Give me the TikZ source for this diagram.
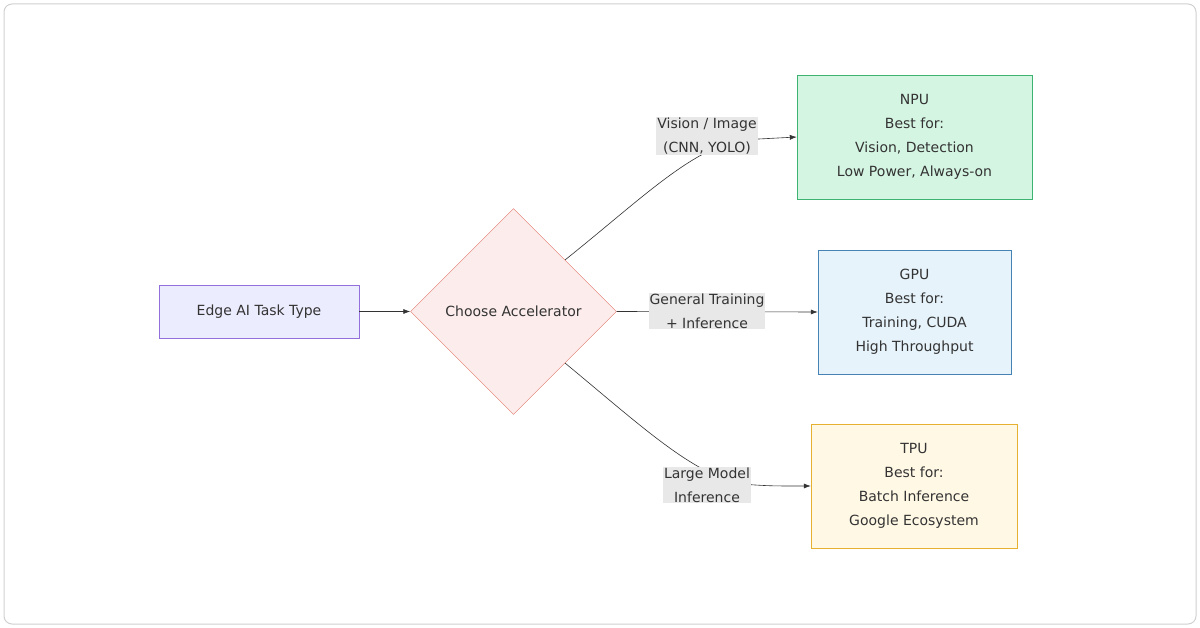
\documentclass[tikz,border=0pt]{standalone}
\usepackage{fontspec}
\setmainfont{DejaVu Sans}
\usetikzlibrary{shapes.geometric,arrows.meta}
\definecolor{startfill}{HTML}{ECECFF}
\definecolor{startline}{HTML}{9370DB}
\definecolor{decfill}{HTML}{FDECEC}
\definecolor{decline}{HTML}{E07466}
\definecolor{npufill}{HTML}{D5F5E3}
\definecolor{npuline}{HTML}{3CB371}
\definecolor{gpufill}{HTML}{E6F3FA}
\definecolor{gpuline}{HTML}{4682B4}
\definecolor{tpufill}{HTML}{FFF8E5}
\definecolor{tpuline}{HTML}{E6B030}
\definecolor{lblfill}{HTML}{E8E8E8}
\definecolor{txt}{HTML}{333333}
\tikzset{
  box/.style={draw, minimum width=#1, text=txt, align=center, inner sep=0pt},
  hw/.style={draw, minimum height=124pt, align=center, text=txt, font=\fontsize{14}{24}\selectfont},
  lbl/.style={fill=lblfill, align=center, text=txt, inner sep=1pt, font=\fontsize{14}{24}\selectfont},
  link/.style={draw=txt, line width=0.6pt, -{Latex[length=7pt,width=5pt]}},
}
\begin{document}
\begin{tikzpicture}[x=1pt,y=-1pt,font=\fontsize{14}{24}\selectfont]
\useasboundingbox (0,0) rectangle (1200,628);
\draw[draw=black!18, line width=1pt, fill=white, rounded corners=8pt] (4,4) rectangle (1196,624);
% nodes
\node[box=200pt, minimum height=53pt, fill=startfill, draw=startline] (task) at (259,311.5) {Edge AI Task Type};
\node[diamond, draw=decline, fill=decfill, minimum width=206pt, minimum height=206pt, inner sep=0pt, text=txt] (choose) at (513.5,311.5) {Choose Accelerator};
\node[hw, minimum width=235pt, fill=npufill, draw=npuline] (npu) at (914.5,137) {NPU\\Best for:\\Vision, Detection\\Low Power, Always-on};
\node[hw, minimum width=193pt, fill=gpufill, draw=gpuline] (gpu) at (914.5,312) {GPU\\Best for:\\Training, CUDA\\High Throughput};
\node[hw, minimum width=206pt, fill=tpufill, draw=tpuline] (tpu) at (914,486) {TPU\\Best for:\\Batch Inference\\Google Ecosystem};
% edges
\draw[link] (task) -- (choose);
\draw[link] (choose.north east) .. controls (640,200) and (690,150) .. (740,140) -- (npu.west);
\draw[link] (choose.east) -- (gpu.west);
\draw[link] (choose.south east) .. controls (640,425) and (690,472) .. (740,484) .. controls (770,486) .. (tpu.west);
% edge labels
\node[lbl] (lnpu) at (707,136) {Vision / Image\\(CNN, YOLO)};
\node[lbl] (lgpu) at (707,311) {General Training\\+ Inference};
\node[lbl] (ltpu) at (707,485) {Large Model\\Inference};
\end{tikzpicture}
\end{document}
